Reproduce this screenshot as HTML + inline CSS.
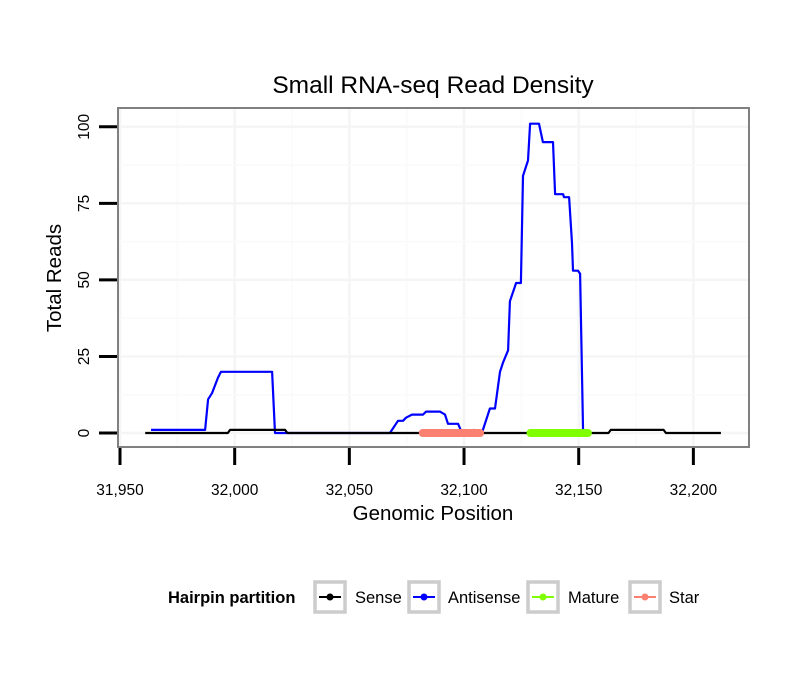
<!DOCTYPE html>
<html><head><meta charset="utf-8"><style>
body{margin:0;background:#fff;}
svg text{font-family:"Liberation Sans",Arial,sans-serif;}
</style></head><body>
<svg id="chart" width="810" height="690" xmlns="http://www.w3.org/2000/svg">
<rect width="810" height="690" fill="#fff"/>
<text x="433" y="93" font-size="24.5" text-anchor="middle">Small RNA-seq Read Density</text>
<g id="grid"></g>
<g id="series"></g>
<rect x="118" y="108" width="631" height="339" fill="none" stroke="#808080" stroke-width="2"/>
<g id="axes"></g>
<text x="433" y="520" font-size="20.5" text-anchor="middle">Genomic Position</text>
<text transform="translate(61,278) rotate(-90)" font-size="20.5" text-anchor="middle">Total Reads</text>
<g>
<text x="168" y="603" font-size="16.5" font-weight="bold">Hairpin partition</text>
<g><rect x="315" y="582" width="30" height="30" fill="#fff" stroke="#cccccc" stroke-width="3.5"/><line x1="319" y1="597" x2="341" y2="597" stroke="#000" stroke-width="2"/><circle cx="330" cy="597" r="3.5" fill="#000"/><text x="355" y="603" font-size="16.5">Sense</text></g>
<g><rect x="409" y="582" width="30" height="30" fill="#fff" stroke="#cccccc" stroke-width="3.5"/><line x1="413" y1="597" x2="435" y2="597" stroke="#0000ff" stroke-width="2"/><circle cx="424" cy="597" r="3.5" fill="#0000ff"/><text x="448" y="603" font-size="16.5">Antisense</text></g>
<g><rect x="528" y="582" width="30" height="30" fill="#fff" stroke="#cccccc" stroke-width="3.5"/><line x1="532" y1="597" x2="554" y2="597" stroke="#7fff00" stroke-width="2"/><circle cx="543" cy="597" r="3.5" fill="#7fff00"/><text x="568" y="603" font-size="16.5">Mature</text></g>
<g><rect x="630" y="582" width="30" height="30" fill="#fff" stroke="#cccccc" stroke-width="3.5"/><line x1="634" y1="597" x2="656" y2="597" stroke="#fa8072" stroke-width="2"/><circle cx="645" cy="597" r="3.5" fill="#fa8072"/><text x="669" y="603" font-size="16.5">Star</text></g>
</g>
</svg>
<script>
const xTicks=[31950,32000,32050,32100,32150,32200];
const xTickLabels=["31,950","32,000","32,050","32,100","32,150","32,200"];
const yTicks=[0,25,50,75,100];
const yTickLabels=["0","25","50","75","100"];
const senseX=[31961,31997,31998,32022,32023,32163,32164,32187,32188,32212];
const senseY=[0,0,1,1,0,0,1,1,0,0];
const antiX=[31963.5,31987.1,31988.4,31990.1,31992.7,31994,32016.3,32017.6,32067.7,32071.2,32073.4,32074.7,32077.3,32082.1,32083.4,32089.5,32091.7,32093,32097.4,32099.1,32101.7,32104.3,32106.5,32107.8,32111.3,32113.5,32115.7,32117,32119.2,32120,32122.7,32124.8,32125.7,32127.9,32128.8,32132.7,32134.4,32138.8,32139.7,32143.2,32143.6,32145.8,32147.1,32147.5,32149.7,32150.6,32151.9];
const antiY=[1,1,11,13,18,20,20,0,0,4,4,5,6,6,7,7,6,3,3,0,0,1,0,0,8,8,20,23,27,43,49,49,84,89,101,101,95,95,78,78,77,77,62,53,53,52,0];
const starRange=[32082,32107];
const matureRange=[32129,32154];
const xs=v=>120+(v-31950)*2.2935;
const ys=v=>433-v*3.062;
const NS="http://www.w3.org/2000/svg";
function mk(tag,attrs,parent){const e=document.createElementNS(NS,tag);for(const k in attrs)e.setAttribute(k,attrs[k]);parent.appendChild(e);return e;}
const grid=document.getElementById('grid'),axes=document.getElementById('axes'),series=document.getElementById('series');
for(let i=0;i<xTicks.length;i++){
 const x=xs(xTicks[i]);
 if(x>118&&x<749){const l=mk('line',{x1:x,x2:x,y1:109,y2:446,stroke:'#f5f5f5','stroke-width':2.5},grid);
 
 }
 if(i<xTicks.length-1){const xm=xs((xTicks[i]+xTicks[i+1])/2);const m=mk('line',{x1:xm,x2:xm,y1:109,y2:446,stroke:'#fafafa','stroke-width':1.5},grid);
 
 }
}
for(let i=0;i<yTicks.length;i++){
 const y=ys(yTicks[i]);
 const l=mk('line',{x1:119,x2:748,y1:y,y2:y,stroke:'#f5f5f5','stroke-width':2.5},grid);
 
 
 if(i<yTicks.length-1){const ym=ys((yTicks[i]+yTicks[i+1])/2);const m=mk('line',{x1:119,x2:748,y1:ym,y2:ym,stroke:'#fafafa','stroke-width':1.5},grid);
 
 }
}
for(let i=0;i<xTicks.length;i++){
 const x=xs(xTicks[i]);
 const t=mk('line',{x1:x,x2:x,y1:448,y2:465,stroke:'#000','stroke-width':3},axes);
 
 
 const tx=mk('text',{x:x,y:495,'font-size':15.5,'text-anchor':'middle'},axes);
 tx.textContent=xTickLabels[i];
 
 
}
for(let i=0;i<yTicks.length;i++){
 const y=ys(yTicks[i]);
 const t=mk('line',{x1:99,x2:117,y1:y,y2:y,stroke:'#000','stroke-width':3},axes);
 
 
 const tx=mk('text',{transform:`translate(89,${y}) rotate(-90)`,'font-size':15.5,'text-anchor':'middle'},axes);
 tx.textContent=yTickLabels[i];
 
 
}
function path(X,Y,color,name){
 const d=X.map((v,i)=>(i?'L':'M')+xs(v).toFixed(1)+','+ys(Y[i]).toFixed(1)).join('');
 const p=mk('path',{d:d,fill:'none',stroke:color,'stroke-width':2.2,'stroke-linejoin':'round'},series);
 
 
}
path(antiX,antiY,'#0000ff','antisense-line');
path(senseX,senseY,'#000000','sense-line');
const st=mk('line',{x1:xs(starRange[0]),x2:xs(starRange[1]),y1:ys(0),y2:ys(0),stroke:'#fa8072','stroke-width':8,'stroke-linecap':'round'},series);


const mt=mk('line',{x1:xs(matureRange[0]),x2:xs(matureRange[1]),y1:ys(0),y2:ys(0),stroke:'#7fff00','stroke-width':8,'stroke-linecap':'round'},series);


</script>
</body></html>
